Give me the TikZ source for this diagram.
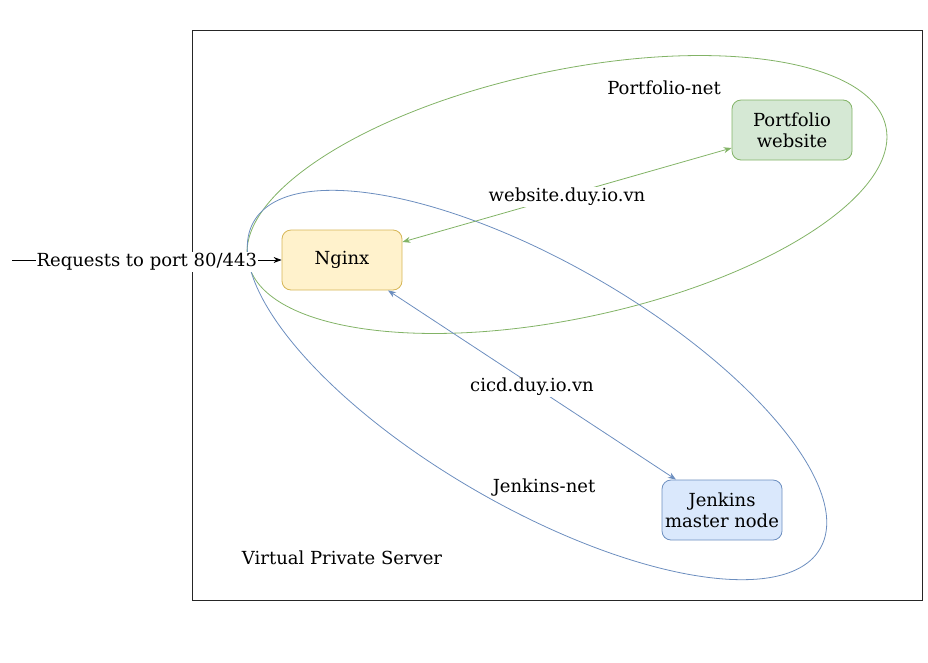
\documentclass[tikz,border=0pt]{standalone}
\usepackage{fontspec}
\setmainfont{DejaVu Serif}
\usepackage{xcolor}
\usepackage{tikz}
\usetikzlibrary{positioning,calc,arrows.meta}
\definecolor{nginxfill}{HTML}{FFF2CC}
\definecolor{nginxline}{HTML}{D6B656}
\definecolor{webfill}{HTML}{D5E8D4}
\definecolor{webline}{HTML}{82B366}
\definecolor{cicdfill}{HTML}{DAE8FC}
\definecolor{cicdline}{HTML}{6C8EBF}

\begin{document}
\begin{tikzpicture}[x=1pt,y=-1pt,
    txt/.style={font=\fontsize{18}{21}\selectfont},
    box/.style={txt, draw, line width=0.8pt, rounded corners=9pt, minimum width=120pt, minimum height=60pt, inner sep=0pt, align=center},
    link/.style={line width=0.8pt, {Stealth[length=8pt,width=6pt]}-{Stealth[length=8pt,width=6pt]}},
    tag/.style={txt, fill=white, inner sep=1pt, yshift=-2pt}]
    \useasboundingbox (0,0) rectangle (928,662);

    % Server
    \draw[line width=0.8pt, black!85] (192,30) rectangle (922,600);
    \node[txt] (vps) at (342,558) {Virtual Private Server};

    % Networks
    \draw[webline, line width=0.8pt, rotate around={12:(567,194.5)}] (567,194.5) ellipse [x radius=326, y radius=124];
    \draw[cicdline, line width=0.8pt, rotate around={-30:(537,385)}] (537,385) ellipse [x radius=327, y radius=122];
    \node[txt] (webnet) at (664,88) {Portfolio-net};
    \node[txt] (cicdnet) at (544,488) {Jenkins-net};

    % Containers
    \node[box, fill=nginxfill, draw=nginxline] (nginx) at (342,260) {Nginx};
    \node[box, fill=webfill, draw=webline] (web) at (792,130) {Portfolio\\website};
    \node[box, fill=cicdfill, draw=cicdline] (jenkins) at (722,510) {Jenkins\\master node};

    % Traffic
    \coordinate (src) at (12,260);
    \draw[line width=0.8pt, -{Stealth[length=8pt,width=6pt]}] (src) -- node[tag] {Requests to port 80/443} (nginx.west);
    \draw[link, webline] ([yshift=18pt]nginx.east) -- node[tag, text=black] {website.duy.io.vn} ([yshift=-18pt]web.west);
    \draw[link, cicdline] ([xshift=46pt]nginx.south) -- node[tag, text=black] {cicd.duy.io.vn} ([xshift=-46pt]jenkins.north);
\end{tikzpicture}
\end{document}
